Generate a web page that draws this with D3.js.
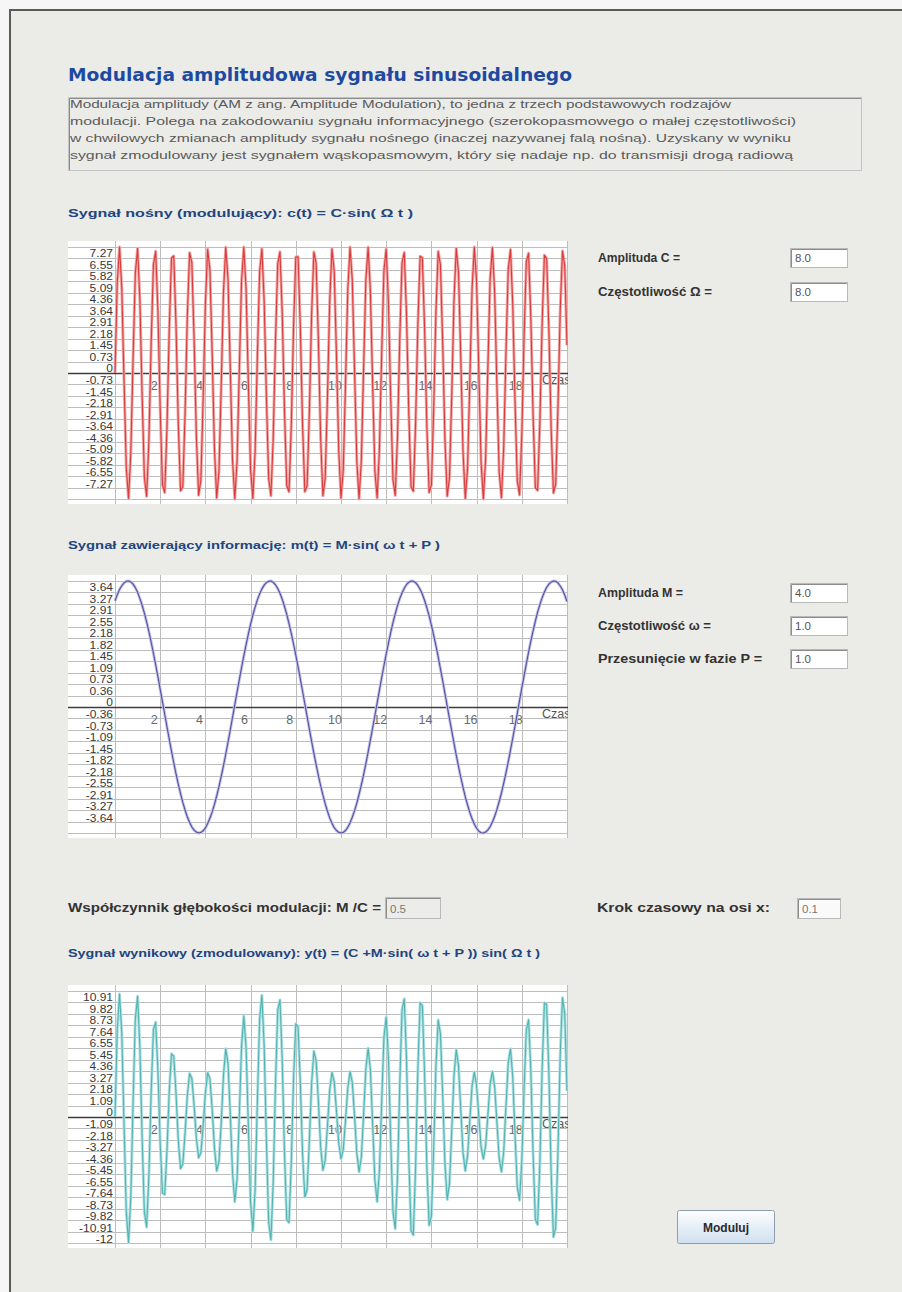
<!DOCTYPE html>
<html>
<head>
<meta charset="utf-8">
<script src="https://cdn.jsdelivr.net/npm/d3@7"></script>
<style>
  html, body { margin: 0; padding: 0; background: #f6f6f6; }
  svg { display: block; }
</style>
</head>
<body>
<svg id="app" width="902" height="1292"></svg>
<script>
// ---- sampled signals, t = 0 … 20 with step 0.1 ----
const timeStep = 0.1;

// c(t) = C·sin(Ω t), C = 8, Ω = 8
const carrier = [
  0.00, 5.74, 8.00, 5.40, -0.47, -6.05, -7.97, -5.05, 0.93, 6.35,
  7.91, 4.68, -1.39, -6.62, -7.83, -4.29, 1.85, 6.87, 7.73, 3.89,
  -2.30, -7.10, -7.59, -3.48, 2.75, 7.30, 7.43, 3.05, -3.18, -7.48,
  -7.24, -2.61, 3.60, 7.63, 7.03, 2.17, -4.01, -7.76, -6.80, -1.71,
  4.41, 7.86, 6.54, 1.25, -4.79, -7.93, -6.26, -0.79, 5.16, 7.98,
  5.96, 0.33, -5.51, -8.00, -5.64, 0.14, 5.84, 7.99, 5.30, -0.61,
  -6.15, -7.96, -4.94, 1.07, 6.43, 7.89, 4.56, -1.53, -6.70, -7.80,
  -4.17, 1.99, 6.94, 7.69, 3.77, -2.44, -7.16, -7.54, -3.35, 2.88,
  7.36, 7.38, 2.92, -3.31, -7.53, -7.18, -2.48, 3.73, 7.68, 6.97,
  2.03, -4.14, -7.79, -6.72, -1.58, 4.53, 7.89, 6.46, 1.11, -4.91,
  -7.95, -6.17, -0.65, 5.27, 7.99, 5.87, 0.18, -5.61, -8.00, -5.54,
  0.28, 5.93, 7.98, 5.19, -0.75, -6.24, -7.94, -4.83, 1.21, 6.52,
  7.87, 4.45, -1.67, -6.78, -7.77, -4.05, 2.13, 7.01, 7.65, 3.64,
  -2.57, -7.23, -7.50, -3.22, 3.01, 7.41, 7.32, 2.79, -3.44, -7.58,
  -7.12, -2.34, 3.85, 7.71, 6.89, 1.89, -4.26, -7.82, -6.65, -1.44,
  4.64, 7.91, 6.38, 0.97, -5.02, -7.97, -6.08, -0.51, 5.37, 8.00,
  5.77, 0.04, -5.71, -8.00, -5.43, 0.42, 6.03, 7.97, 5.08, -0.89,
  -6.32, -7.92, -4.71, 1.35, 6.60, 7.84, 4.33, -1.81, -6.85, -7.74,
  -3.93, 2.26, 7.08, 7.60, 3.51, -2.71, -7.29, -7.45, -3.09, 3.14,
  7.47, 7.26, 2.65, -3.57, -7.62, -7.05, -2.21, 3.98, 7.75, 6.82,
  1.76
];

// m(t) = M·sin(ω t + P), M = 4, ω = 1, P = 1
const message = [
  3.37, 3.56, 3.73, 3.85, 3.94, 3.99, 4.00, 3.97, 3.90, 3.79,
  3.64, 3.45, 3.23, 2.98, 2.70, 2.39, 2.06, 1.71, 1.34, 0.96,
  0.56, 0.17, -0.23, -0.63, -1.02, -1.40, -1.77, -2.12, -2.45, -2.75,
  -3.03, -3.27, -3.49, -3.66, -3.81, -3.91, -3.97, -4.00, -3.98, -3.93,
  -3.84, -3.70, -3.53, -3.33, -3.09, -2.82, -2.53, -2.20, -1.86, -1.50,
  -1.12, -0.73, -0.33, 0.07, 0.47, 0.86, 1.25, 1.62, 1.98, 2.31,
  2.63, 2.92, 3.17, 3.40, 3.59, 3.75, 3.87, 3.95, 3.99, 4.00,
  3.96, 3.88, 3.76, 3.61, 3.42, 3.19, 2.94, 2.65, 2.34, 2.00,
  1.65, 1.28, 0.89, 0.50, 0.10, -0.30, -0.70, -1.09, -1.47, -1.83,
  -2.18, -2.50, -2.80, -3.07, -3.31, -3.52, -3.69, -3.83, -3.92, -3.98,
  -4.00, -3.98, -3.92, -3.82, -3.68, -3.50, -3.29, -3.05, -2.77, -2.47,
  -2.15, -1.80, -1.43, -1.05, -0.66, -0.27, 0.13, 0.53, 0.93, 1.31,
  1.68, 2.03, 2.37, 2.68, 2.96, 3.22, 3.44, 3.62, 3.77, 3.89,
  3.96, 4.00, 3.99, 3.95, 3.86, 3.74, 3.58, 3.38, 3.15, 2.89,
  2.60, 2.28, 1.95, 1.59, 1.21, 0.83, 0.43, 0.03, -0.37, -0.76,
  -1.15, -1.53, -1.89, -2.23, -2.55, -2.85, -3.11, -3.35, -3.55, -3.72,
  -3.85, -3.94, -3.99, -4.00, -3.97, -3.90, -3.80, -3.65, -3.47, -3.25,
  -3.00, -2.73, -2.42, -2.09, -1.74, -1.37, -0.99, -0.60, -0.20, 0.20,
  0.60, 0.99, 1.37, 1.74, 2.09, 2.42, 2.73, 3.01, 3.25, 3.47,
  3.65, 3.80, 3.90, 3.97, 4.00, 3.99, 3.94, 3.84, 3.72, 3.55,
  3.35
];

// y(t) = (C + M·sin(ω t + P))·sin(Ω t)
const modulated = [
  0.00, 8.30, 11.72, 8.01, -0.70, -9.07, -11.95, -7.55, 1.39, 9.35,
  11.51, 6.70, -1.96, -9.09, -10.48, -5.58, 2.33, 8.34, 9.02, 4.36,
  -2.47, -7.25, -7.37, -3.20, 2.40, 6.02, 5.79, 2.24, -2.21, -4.91,
  -4.50, -1.54, 2.03, 4.14, 3.69, 1.11, -2.02, -3.88, -3.41, -0.87,
  2.30, 4.22, 3.65, 0.73, -2.94, -5.14, -4.29, -0.57, 3.96, 6.49,
  5.13, 0.30, -5.28, -8.07, -5.97, 0.16, 6.75, 9.61, 6.61, -0.78,
  -8.16, -10.86, -6.90, 1.53, 9.33, 11.59, 6.77, -2.29, -10.05, -11.70,
  -6.24, 2.95, 10.21, 11.15, 5.38, -3.41, -9.80, -10.05, -4.33, 3.60,
  8.88, 8.55, 3.24, -3.52, -7.62, -6.91, -2.26, 3.22, 6.27, 5.37,
  1.48, -2.84, -5.07, -4.14, -0.92, 2.54, 4.25, 3.37, 0.57, -2.46,
  -3.98, -3.10, -0.33, 2.75, 4.32, 3.30, 0.11, -3.47, -5.23, -3.83,
  0.21, 4.60, 6.55, 4.51, -0.69, -6.03, -8.07, -5.15, 1.35, 7.58,
  9.52, 5.58, -2.17, -9.05, -10.65, -5.68, 3.04, 10.19, 11.25, 5.41,
  -3.85, -10.84, -11.24, -4.81, 4.46, 10.88, 10.60, 3.96, -4.79, -10.32,
  -9.43, -3.01, 4.79, 9.24, 7.94, 2.09, -4.49, -7.86, -6.34, -1.30,
  3.98, 6.40, 4.87, 0.70, -3.42, -5.13, -3.72, -0.30, 2.99, 4.28,
  3.00, 0.02, -2.86, -4.00, -2.74, 0.22, 3.17, 4.33, 2.88, -0.53,
  -3.95, -5.22, -3.29, 1.00, 5.16, 6.50, 3.79, -1.68, -6.68, -7.93,
  -4.22, 2.54, 8.30, 9.26, 4.43, -3.53, -9.77, -10.24, -4.35, 4.50,
  10.87, 10.71, 3.95, -5.34, -11.43, -10.57, -3.29, 5.89, 11.35, 9.85,
  2.49
];

// ---- axis tick labels ----
const timeTicks = ["2", "4", "6", "8", "10", "12", "14", "16", "18"];
const carrierTicks = ["7.27", "6.55", "5.82", "5.09", "4.36", "3.64", "2.91", "2.18", "1.45", "0.73", "0",
  "-0.73", "-1.45", "-2.18", "-2.91", "-3.64", "-4.36", "-5.09", "-5.82", "-6.55", "-7.27"];
const messageTicks = ["3.64", "3.27", "2.91", "2.55", "2.18", "1.82", "1.45", "1.09", "0.73", "0.36", "0",
  "-0.36", "-0.73", "-1.09", "-1.45", "-1.82", "-2.18", "-2.55", "-2.91", "-3.27", "-3.64"];
const modulatedTicks = ["10.91", "9.82", "8.73", "7.64", "6.55", "5.45", "4.36", "3.27", "2.18", "1.09", "0",
  "-1.09", "-2.18", "-3.27", "-4.36", "-5.45", "-6.55", "-7.64", "-8.73", "-9.82", "-10.91", "-12"];
const axisRanges = [8, 4, 12];

// ---- texts ----
const pageTitle = "Modulacja amplitudowa sygnału sinusoidalnego";
const intro = [
  "Modulacja amplitudy (AM z ang. Amplitude Modulation), to jedna z trzech podstawowych rodzajów",
  "modulacji. Polega na zakodowaniu sygnału informacyjnego (szerokopasmowego o małej częstotliwości)",
  "w chwilowych zmianach amplitudy sygnału nośnego (inaczej nazywanej falą nośną). Uzyskany w wyniku",
  "sygnał zmodulowany jest sygnałem wąskopasmowym, który się nadaje np. do transmisji drogą radiową"
];
const chartTitles = [
  "Sygnał nośny (modulujący): c(t) = C·sin( Ω t )",
  "Sygnał zawierający informację: m(t) = M·sin( ω t + P )",
  "Sygnał wynikowy (zmodulowany): y(t) = (C +M·sin( ω t + P )) sin( Ω t )"
];
const paramLabels = [
  ["Amplituda C =", "Częstotliwość Ω ="],
  ["Amplituda M =", "Częstotliwość ω =", "Przesunięcie w fazie P ="]
];
const paramValues = [["8.0", "8.0"], ["4.0", "1.0", "1.0"]];

const svg = d3.select("#app");
const FONT = "'Liberation Sans', Arial, sans-serif";

function text(g, x, y, str, o = {}) {
  const t = g.append("text").attr("x", x).attr("y", y).text(str)
    .attr("font-family", o.family || FONT)
    .attr("font-size", o.size || 12)
    .attr("font-weight", o.weight || "normal")
    .attr("fill", o.fill || "#333");
  if (o.anchor) t.attr("text-anchor", o.anchor);
  if (o.width) t.attr("textLength", o.width).attr("lengthAdjust", "spacingAndGlyphs");
  return t;
}

function field(x, y, w, h, value, o = {}) {
  svg.append("rect").attr("x", x + 0.5).attr("y", y + 0.5).attr("width", w).attr("height", h)
    .attr("fill", o.fill || "#fff").attr("stroke", "#b9b9b9");
  svg.append("path").attr("d", `M${x + 1.5},${y + h} V${y + 1.5} H${x + w}`)
    .attr("fill", "none").attr("stroke", "#8c8c8c");
  text(svg, x + 5, y + h - 5, value, { size: 11.5, fill: o.color || "#555" });
}

// ---- window background and frame ----
svg.append("rect").attr("x", 9).attr("y", 9).attr("width", 893).attr("height", 1283).attr("fill", "#ebebe8");
svg.append("path").attr("d", "M10,1292 V10 H902").attr("fill", "none").attr("stroke", "#5a5a5a").attr("stroke-width", 2);

// ---- header ----
text(svg, 68, 81, pageTitle, { family: "'DejaVu Sans', Verdana, sans-serif", size: 18, weight: "bold", fill: "#1d4aa0", width: 504 });

svg.append("rect").attr("x", 68.5).attr("y", 97.5).attr("width", 793).attr("height", 73)
  .attr("fill", "#ebebe8").attr("stroke", "#c4c4c4");
svg.append("path").attr("d", "M69.5,170 V98.5 H861").attr("fill", "none").attr("stroke", "#8a8a8a");
const introWidths = [661, 726, 721, 723];
intro.forEach((line, i) => text(svg, 70, 108 + i * 17, line, { size: 11.5, fill: "#5a5a5a", width: introWidths[i] }));

// ---- charts ----
const plotLeft = 68, plotRight = 568;
const x = d3.scaleLinear().domain([0, 20]).range([115, 567]);
const charts = [
  { values: carrier, ticks: carrierTicks, max: axisRanges[0], zero: 373, title: chartTitles[0], titleY: 217, titleW: 345,
    halo: "#f3a6a6", stroke: "#d63c3c" },
  { values: message, ticks: messageTicks, max: axisRanges[1], zero: 707, title: chartTitles[1], titleY: 549, titleW: 372,
    halo: "#c2c2e6", stroke: "#5252a2" },
  { values: modulated, ticks: modulatedTicks, max: axisRanges[2], zero: 1117, title: chartTitles[2], titleY: 957, titleW: 472,
    halo: "#b0e0e0", stroke: "#52b3b3" }
];

charts.forEach((c, ci) => {
  text(svg, 68, c.titleY, c.title, { size: 11.5, weight: "bold", fill: "#22457f", width: c.titleW });

  const top = c.zero - 132, bottom = c.zero + 131;
  const y = d3.scaleLinear().domain([-c.max, c.max]).range([c.zero + 126, c.zero - 126]);
  const g = svg.append("g");
  const clipId = "clip" + ci;
  g.append("clipPath").attr("id", clipId).append("rect")
    .attr("x", plotLeft).attr("y", top).attr("width", plotRight - plotLeft).attr("height", bottom - top);

  g.append("rect").attr("x", plotLeft).attr("y", top).attr("width", plotRight - plotLeft).attr("height", bottom - top)
    .attr("fill", "#ffffff");

  const inner = g.append("g").attr("clip-path", `url(#${clipId})`);

  // horizontal grid at every labelled value and at the range ends
  const gridVals = c.ticks.map(Number).concat([c.max, -c.max]);
  inner.selectAll("line.h").data(gridVals).join("line")
    .attr("x1", plotLeft).attr("x2", plotRight)
    .attr("y1", d => Math.round(y(d)) + 0.5).attr("y2", d => Math.round(y(d)) + 0.5)
    .attr("stroke", "#bdbdbd");

  // vertical grid every 2 time units
  const vGrid = [0].concat(timeTicks.map(Number), [20]);
  inner.selectAll("line.v").data(vGrid).join("line")
    .attr("x1", d => Math.round(x(d)) + 0.5).attr("x2", d => Math.round(x(d)) + 0.5)
    .attr("y1", top).attr("y2", bottom)
    .attr("stroke", "#bdbdbd");

  // time axis
  inner.append("line").attr("x1", plotLeft).attr("x2", plotRight)
    .attr("y1", Math.round(y(0)) + 0.5).attr("y2", Math.round(y(0)) + 0.5)
    .attr("stroke", "#3c3c3c").attr("stroke-width", 1.4);

  // value labels: small type, widened to the stacked-label look
  inner.selectAll("text.yl").data(c.ticks).join("text")
    .attr("x", 113).attr("y", d => y(+d) - (+d >= 0 ? 1 : 0))
    .attr("text-anchor", "end")
    .attr("font-family", FONT).attr("font-size", 10).attr("fill", "#383838")
    .text(d => d)
    .each(function () {
      const w = this.getComputedTextLength();
      d3.select(this).attr("textLength", w * 1.2).attr("lengthAdjust", "spacingAndGlyphs");
    });

  // time labels
  inner.selectAll("text.xl").data(timeTicks).join("text")
    .attr("x", d => x(+d) - 6).attr("y", y(0) + 17)
    .attr("text-anchor", "middle")
    .attr("font-family", FONT).attr("font-size", 12.5).attr("fill", "#6a6a6a")
    .text(d => d);
  text(inner, 542, y(0) + 11, "Czas", { size: 12.5, fill: "#555" });

  // signal
  const line = d3.line().x((d, i) => x(i * timeStep)).y(d => y(d));
  inner.append("path").datum(c.values).attr("d", line)
    .attr("fill", "none").attr("stroke", c.halo).attr("stroke-width", 3).attr("stroke-linejoin", "round");
  inner.append("path").datum(c.values).attr("d", line)
    .attr("fill", "none").attr("stroke", c.stroke).attr("stroke-width", 1.1).attr("stroke-linejoin", "round");
});

// ---- parameter fields ----
const labelOpts = { size: 12, weight: "bold", fill: "#333" };
const paramRows = [[262, 296], [597, 630, 663]];
const paramWidths = [[82, 114], [85, 113, 164]];
paramLabels.forEach((group, gi) => group.forEach((lbl, i) => {
  const yy = paramRows[gi][i];
  text(svg, 598, yy, lbl, Object.assign({ width: paramWidths[gi][i] }, labelOpts));
  field(790, yy - 14, 57, 19, paramValues[gi][i]);
}));

text(svg, 68, 912, "Współczynnik głębokości modulacji: M /C =", Object.assign({ width: 313 }, labelOpts));
field(385, 897, 55, 21, "0.5", { fill: "#ecece9", color: "#777" });
text(svg, 597, 912, "Krok czasowy na osi x:", Object.assign({ width: 173 }, labelOpts));
field(797, 898, 43, 20, "0.1", { fill: "#fafafa", color: "#777" });

// ---- button ----
const grad = svg.append("defs").append("linearGradient").attr("id", "btn").attr("x1", 0).attr("x2", 0).attr("y1", 0).attr("y2", 1);
grad.append("stop").attr("offset", "0%").attr("stop-color", "#fdfeff");
grad.append("stop").attr("offset", "100%").attr("stop-color", "#cfe0f0");
svg.append("rect").attr("x", 677.5).attr("y", 1210.5).attr("width", 97).attr("height", 33).attr("rx", 2)
  .attr("fill", "url(#btn)").attr("stroke", "#8e9cab");
text(svg, 726, 1232, "Moduluj", { size: 12, weight: "bold", fill: "#2a2a2a", anchor: "middle" });
</script>
</body>
</html>
